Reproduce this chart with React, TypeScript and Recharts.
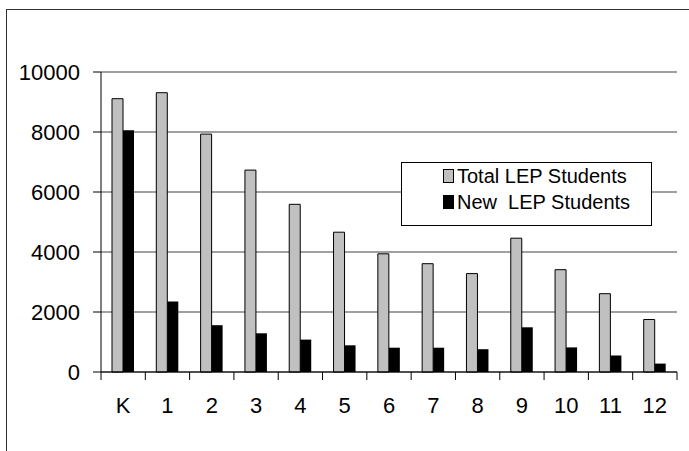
import React from "react";
import { BarChart, Bar, XAxis, YAxis, CartesianGrid } from "recharts";

const grades = ["K", "1", "2", "3", "4", "5", "6", "7", "8", "9", "10", "11", "12"];
const totalLep = [9110, 9310, 7930, 6730, 5590, 4660, 3940, 3610, 3280, 4460, 3410, 2610, 1750];
const newLep = [8060, 2350, 1560, 1290, 1080, 890, 810, 810, 760, 1490, 820, 550, 280];
const yTicks = [0, 2000, 4000, 6000, 8000, 10000];

const chartData = grades.map((g, i) => ({
  grade: g,
  total: totalLep[i],
  fresh: newLep[i],
}));

const FONT = "'Liberation Sans', Arial, sans-serif";

function GradeTick(props: any) {
  const { x, y, payload, index } = props;
  const half = payload && payload.offset ? payload.offset : 22.15;
  const last = index === grades.length - 1;
  return (
    <g>
      <line x1={x - half} y1={y - 8} x2={x - half} y2={y} stroke="#000" />
      {last && <line x1={x + half} y1={y - 8} x2={x + half} y2={y} stroke="#000" />}
      <text
        x={x}
        y={y + 17}
        dy="0.71em"
        textAnchor="middle"
        fontSize={22}
        fontFamily={FONT}
        fill="#000"
      >
        {payload.value}
      </text>
    </g>
  );
}

function LegendBox() {
  const row = (fill: string, label: string) => (
    <div style={{ display: "flex", alignItems: "center", height: 26 }}>
      <span
        style={{
          display: "inline-block",
          width: 9,
          height: 12,
          background: fill,
          border: "1px solid #000",
          marginRight: 3,
        }}
      />
      <span style={{ whiteSpace: "pre" }}>{label}</span>
    </div>
  );
  return (
    <div
      style={{
        position: "absolute",
        left: 401,
        top: 162,
        width: 251,
        height: 64,
        boxSizing: "border-box",
        border: "1px solid #000",
        background: "#fff",
        paddingLeft: 41,
        paddingTop: 0,
        fontFamily: FONT,
        fontSize: 20,
        color: "#000",
        lineHeight: "20px",
      }}
    >
      {row("#c0c0c0", "Total LEP Students")}
      {row("#000", "New  LEP Students")}
    </div>
  );
}

export default function App() {
  return (
    <div
      style={{
        position: "fixed",
        left: 0,
        top: 0,
        width: 689,
        height: 451,
        background: "#fff",
        overflow: "hidden",
      }}
    >
      <div
        style={{
          position: "absolute",
          left: 6,
          top: 9,
          width: 720,
          height: 480,
          border: "1px solid #333",
        }}
      />
      <div style={{ position: "absolute", left: 0, top: 0 }}>
        <BarChart
          width={689}
          height={451}
          data={chartData}
          margin={{ top: 72, right: 12, left: 0, bottom: 0 }}
          barSize={11}
          barGap={0}
        >
          <CartesianGrid vertical={false} stroke="#808080" strokeWidth={1.5} />
          <XAxis
            dataKey="grade"
            height={79}
            axisLine={{ stroke: "#000" }}
            tickLine={false}
            tick={<GradeTick />}
            interval={0}
          />
          <YAxis
            width={101}
            domain={[0, 10000]}
            ticks={yTicks}
            tickSize={8}
            tickMargin={13}
            axisLine={{ stroke: "#000" }}
            tickLine={{ stroke: "#000" }}
            tick={{ fontSize: 22, fontFamily: FONT, fill: "#000" }}
          />
          <YAxis
            yAxisId="right"
            orientation="right"
            width={0}
            domain={[0, 10000]}
            tick={false}
            tickLine={false}
            axisLine={{ stroke: "#808080", strokeWidth: 1.5 }}
          />
          <Bar
            dataKey="total"
            fill="#c0c0c0"
            stroke="#000"
            strokeWidth={1}
            isAnimationActive={false}
          />
          <Bar dataKey="fresh" fill="#000" isAnimationActive={false} />
        </BarChart>
      </div>
      <LegendBox />
    </div>
  );
}
